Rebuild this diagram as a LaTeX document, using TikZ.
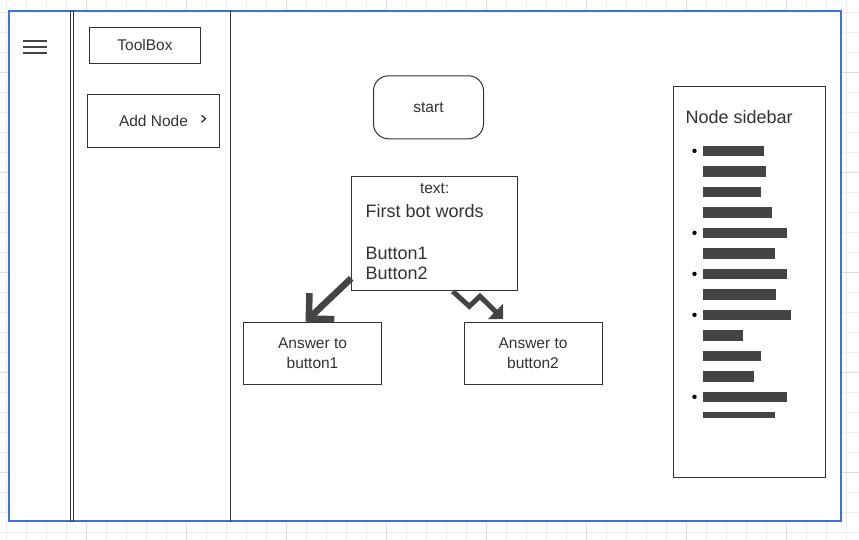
\documentclass[tikz,border=0pt]{standalone}
\usepackage{fontspec}
\setmainfont{Liberation Sans}
\usetikzlibrary{
  arrows.meta,
  calc,
  positioning
}
\definecolor{gridminor}{HTML}{EDEDED}
\definecolor{gridmajor}{HTML}{DDDDDD}
\definecolor{linegray}{HTML}{333333}
\definecolor{inkgray}{HTML}{444444}
\definecolor{textgray}{HTML}{333333}
\definecolor{selblue}{HTML}{3A72D8}
\newcommand\uismall{\fontsize{15.5}{20.3}\selectfont}
\newcommand\uibig{\fontsize{18}{20.7}\selectfont}
\tikzset{
  gridline/.style={draw=gridminor, line width=1pt},
  gridbold/.style={draw=gridmajor, line width=1pt},
  frame/.style={draw=selblue, fill=white, rectangle, inner sep=0pt, line width=1.8pt},
  panel/.style={draw=linegray, line width=1pt},
  menuline/.style={draw=inkgray, line width=2.2pt},
  chevron/.style={draw=linegray, line width=1.3pt},
  box/.style={
    draw=linegray,
    fill=white,
    rectangle,
    line width=1pt,
    inner sep=0pt,
    align=center,
    text=textgray,
    font=\uismall
  },
  roundbox/.style={box, rounded corners=15pt},
  smalltext/.style={font=\uismall, text=textgray, inner sep=0pt},
  bigtext/.style={font=\uibig, text=textgray, inner sep=0pt},
  bigarrow/.style={draw=inkgray, line width=6.5pt, -{Straight Barb[length=18pt, width=36pt, sharp]}},
  zigarrow/.style={draw=inkgray, line width=5pt, line join=miter, -{Triangle[length=10.6pt, width=21.2pt]}}
}

\begin{document}
\begin{tikzpicture}[x=1pt, y=-1pt]
  \useasboundingbox (0,0) rectangle (859,540);

  % canvas grid
  \foreach \i in {0,...,42} \draw[gridline] (6.7+20*\i,0) -- (6.7+20*\i,540);
  \foreach \i in {0,...,26} \draw[gridline] (0,12.3+20*\i) -- (859,12.3+20*\i);
  \foreach \i in {0,...,7} \draw[gridbold] (86.7+100*\i,0) -- (86.7+100*\i,540);
  \foreach \i in {0,...,4} \draw[gridbold] (0,72.3+100*\i) -- (859,72.3+100*\i);

  % app window
  \node[frame, minimum width=832pt, minimum height=510pt] (window) at (425,266) {};
  \draw[panel] ($(window.north west)+(62.5,0)$) -- ($(window.south west)+(62.5,0)$);
  \draw[panel] ($(window.north west)+(65.5,0)$) -- ($(window.south west)+(65.5,0)$);
  \draw[panel] ($(window.north west)+(222,0)$) -- ($(window.south west)+(222,0)$);

  % menu icon
  \foreach \hy in {40.8,47,53.4} \draw[menuline] (23,\hy) -- (47,\hy);

  % toolbox column
  \node[box, minimum width=111pt, minimum height=36pt] (toolbox) at (145,45.3) {ToolBox};
  \node[box, minimum width=132pt, minimum height=53pt] (addnode) at (153.5,120.8) {Add Node};
  \draw[chevron] ($(addnode.east)+(-18.5,-5.5)$) -- ++(4,3.5) -- ++(-4,3.5);

  % flow
  \node[roundbox, minimum width=110pt, minimum height=63pt] (start) at (428.5,107.3) {start};
  \node[box, minimum width=166pt, minimum height=114pt] (msg) at (434.7,233.8) {};
  \node[smalltext, anchor=base] (msglabel) at ($(msg.north)+(0,17.3)$) {text:};
  \node[bigtext, anchor=base west] (msgwords) at ($(msg.north west)+(14.3,41.3)$) {First bot words};
  \node[bigtext, anchor=base west] (btnone) at ($(msg.north west)+(14.3,83)$) {Button1};
  \node[bigtext, anchor=base west] (btntwo) at ($(msg.north west)+(14.3,103.6)$) {Button2};

  \node[box, minimum width=138pt, minimum height=62pt] (ansone) at (312.5,353.2) {Answer to\\button1};
  \node[box, minimum width=138pt, minimum height=62pt, right=81.5pt of ansone] (anstwo) {Answer to\\button2};

  \coordinate (oneStart) at ($(msg.south west)+(0,-13)$);
  \coordinate (oneTip) at ($(ansone.north west)+(62.5,0)$);
  \draw[bigarrow] (oneStart) -- (oneTip);

  \coordinate (twoStart) at ($(msg.south)+(18,0)$);
  \coordinate (twoTip) at ($(anstwo.north west)+(39.5,-2.8)$);
  \draw[zigarrow] (twoStart) -- ++(16.6,15) -- ++(10.7,-10) -- (twoTip);

  % sidebar
  \node[box, minimum width=152.4pt, minimum height=391.3pt] (sidebar) at (749.5,281.7) {};
  \node[bigtext, anchor=base west] (sidetitle) at ($(sidebar.north west)+(12.7,38.3)$) {Node sidebar};
  \foreach \w/\h/\b [count=\i from 0] in {61/10.5/1, 63.7/10.5/0, 58.7/10.5/0, 69/10.5/0,
      84/10.5/1, 72/10.5/0, 84/10.5/1, 73/10.5/0, 88/10.5/1, 40/10.5/0,
      58.7/10.5/0, 51/10.5/0, 84/10.5/1, 72/6/0} {
    \fill[inkgray] ($(sidebar.north west)+(29.7,60+20.5*\i)$) rectangle ++(\w,\h);
    \ifnum\b=1 \fill[black] ($(sidebar.north west)+(21.7,65.3+20.5*\i)$) circle (2.2); \fi
  }
\end{tikzpicture}
\end{document}
